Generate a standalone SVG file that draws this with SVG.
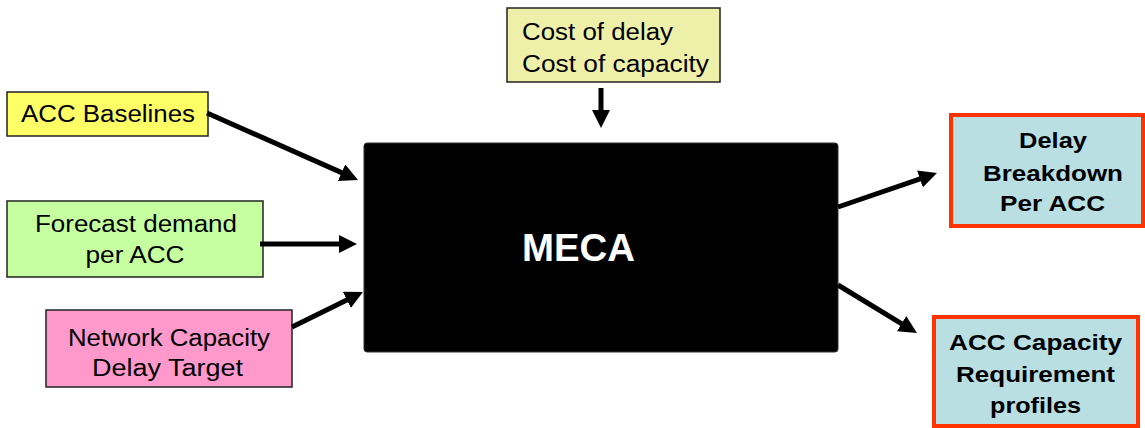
<svg xmlns="http://www.w3.org/2000/svg" width="1145" height="428" viewBox="0 0 1145 428">
<style>
  text { font-family: "Liberation Sans", Arial, sans-serif; font-size: 23px; fill: #000; }
  .c { text-anchor: middle; }
  .b { font-weight: bold; font-size: 22px; }
  .in { stroke: #222; stroke-width: 1.5; }
  .out { fill: #B9DFE2; stroke: #FF3300; stroke-width: 4; }
  .conn line { stroke: #000; stroke-width: 5; marker-end: url(#ah); }
</style>
<defs>
  <marker id="ah" markerUnits="userSpaceOnUse" markerWidth="18" markerHeight="18" viewBox="0 0 18 18" refX="8" refY="9" orient="auto">
    <path d="M0,0 L18,9 L0,18 z" fill="#000"/>
  </marker>
</defs>
<rect width="1145" height="428" fill="#fff"/>

<g id="cost">
  <rect class="in" x="507" y="8" width="213" height="74" fill="#EEF0AA"/>
  <text x="522" y="40" textLength="151" lengthAdjust="spacingAndGlyphs">Cost of delay</text>
  <text x="522" y="72" textLength="187" lengthAdjust="spacingAndGlyphs">Cost of capacity</text>
</g>

<g id="baselines">
  <rect class="in" x="7" y="92" width="201" height="44" fill="#FFFF66"/>
  <text class="c" x="108" y="122" textLength="174" lengthAdjust="spacingAndGlyphs">ACC Baselines</text>
</g>

<g id="forecast">
  <rect class="in" x="7" y="201" width="256" height="76" fill="#C6FFA0"/>
  <text class="c" x="136" y="232" textLength="202" lengthAdjust="spacingAndGlyphs">Forecast demand</text>
  <text class="c" x="135" y="263" textLength="99" lengthAdjust="spacingAndGlyphs">per ACC</text>
</g>

<g id="network">
  <rect class="in" x="46" y="310" width="246" height="77" fill="#FF99CC"/>
  <text class="c" x="169" y="346" textLength="202" lengthAdjust="spacingAndGlyphs">Network Capacity</text>
  <text class="c" x="167.5" y="376" textLength="151" lengthAdjust="spacingAndGlyphs">Delay Target</text>
</g>

<g id="meca">
  <rect x="364" y="143" width="474" height="209" rx="3" fill="#000" stroke="#333" stroke-width="1"/>
  <text class="c b" x="578.5" y="261" style="font-size:39px;fill:#fff" textLength="113" lengthAdjust="spacingAndGlyphs">MECA</text>
</g>

<g id="delay">
  <rect class="out" x="951" y="115" width="192" height="111"/>
  <text class="c b" x="1053" y="148" textLength="68" lengthAdjust="spacingAndGlyphs">Delay</text>
  <text class="c b" x="1053" y="181" textLength="140" lengthAdjust="spacingAndGlyphs">Breakdown</text>
  <text class="c b" x="1052.5" y="211" textLength="105" lengthAdjust="spacingAndGlyphs">Per ACC</text>
</g>

<g id="capacity">
  <rect class="out" x="934" y="317" width="204" height="109"/>
  <text class="c b" x="1035.5" y="350" textLength="173" lengthAdjust="spacingAndGlyphs">ACC Capacity</text>
  <text class="c b" x="1035.5" y="382" textLength="159" lengthAdjust="spacingAndGlyphs">Requirement</text>
  <text class="c b" x="1035.5" y="413" textLength="91" lengthAdjust="spacingAndGlyphs">profiles</text>
</g>

<g id="connectors" class="conn">
  <line x1="601" y1="88" x2="601" y2="118"/>
  <line x1="207" y1="113" x2="348.9" y2="175.9"/>
  <line x1="260" y1="244" x2="347" y2="244"/>
  <line x1="292" y1="327" x2="354" y2="296.4"/>
  <line x1="838" y1="207" x2="927.5" y2="176.3"/>
  <line x1="838" y1="285" x2="908.4" y2="327.8"/>
</g>
</svg>
